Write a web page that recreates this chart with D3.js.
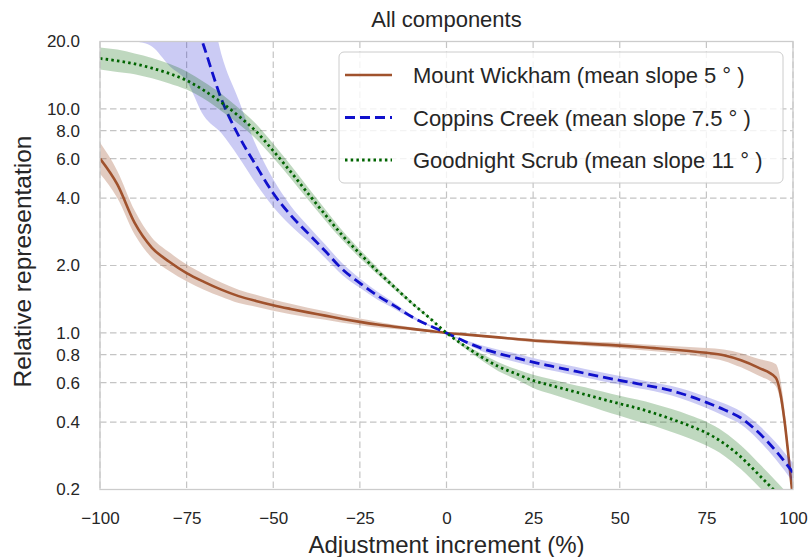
<!DOCTYPE html>
<html>
<head>
<meta charset="utf-8">
<script src="https://cdn.jsdelivr.net/npm/d3@7"></script>
<style>
  body { margin: 0; background: #fff; }
  svg { display: block; font-family: 'Liberation Sans', Arial, sans-serif; }
  .tick text { fill: #262626; font-size: 17px; }
</style>
</head>
<body>
<svg id="chart" width="809" height="557"></svg>
<script>
// adjustment increments (%) at which each site was evaluated
const increments = [-100, -95, -90, -85, -80, -75, -70, -65, -60, -55, -50, -45, -40, -35, -30, -25, -20, -15, -10, -5,
  0, 5, 10, 15, 20, 25, 30, 35, 40, 45, 50, 55, 60, 65, 70, 75, 80, 85, 90, 95, 100]

// Mount Wickham: mean relative representation and its band
const wickhamMean = [6.0, 4.6, 3.1, 2.4, 2.08, 1.85, 1.69, 1.56, 1.46, 1.39, 1.33, 1.28, 1.235, 1.195, 1.155, 1.12, 1.09, 1.065, 1.043, 1.021,
  1.0, 0.985, 0.97, 0.955, 0.94, 0.925, 0.915, 0.905, 0.896, 0.887, 0.878, 0.867, 0.855, 0.843, 0.83, 0.815, 0.795, 0.755, 0.70, 0.632, 0.18]
const wickhamHigh = [7.08, 5.29, 3.52, 2.66, 2.29, 2.02, 1.83, 1.68, 1.56, 1.48, 1.41, 1.35, 1.297, 1.249, 1.201, 1.159, 1.123, 1.088, 1.059, 1.029,
  1.0, 0.99, 0.98, 0.966, 0.954, 0.942, 0.933, 0.925, 0.917, 0.91, 0.903, 0.893, 0.883, 0.874, 0.865, 0.856, 0.843, 0.812, 0.767, 0.727, 0.19]
const wickhamLow = [5.13, 4.0, 2.75, 2.16, 1.89, 1.70, 1.56, 1.45, 1.36, 1.31, 1.255, 1.213, 1.176, 1.144, 1.111, 1.082, 1.058, 1.042, 1.028, 1.013,
  1.0, 0.98, 0.96, 0.944, 0.926, 0.909, 0.897, 0.886, 0.875, 0.865, 0.854, 0.842, 0.828, 0.813, 0.797, 0.776, 0.75, 0.702, 0.645, 0.58, 0.17]

// Coppins Creek
const coppinsMean = [180, 140, 105, 75, 50, 32, 19.0, 11.1, 7.6, 5.6, 4.2, 3.36, 2.79, 2.32, 1.92, 1.67, 1.47, 1.32, 1.18, 1.08,
  1.0, 0.92, 0.856, 0.81, 0.774, 0.74, 0.712, 0.686, 0.66, 0.636, 0.614, 0.594, 0.574, 0.552, 0.523, 0.49, 0.455, 0.417, 0.36, 0.298, 0.238]
const coppinsHigh = [400, 300, 220, 160, 100, 65, 40, 17.6, 11.0, 6.9, 4.85, 3.7, 3.01, 2.48, 2.04, 1.75, 1.53, 1.36, 1.2, 1.09,
  1.0, 0.934, 0.882, 0.842, 0.809, 0.773, 0.744, 0.717, 0.69, 0.665, 0.642, 0.621, 0.6, 0.58, 0.552, 0.519, 0.485, 0.446, 0.389, 0.325, 0.262]
const coppinsLow = [24, 22, 20.2, 19.0, 15.6, 13.3, 9.3, 7.8, 6.1, 4.65, 3.65, 3.02, 2.57, 2.16, 1.81, 1.59, 1.41, 1.28, 1.16, 1.07,
  1.0, 0.906, 0.831, 0.779, 0.741, 0.708, 0.681, 0.656, 0.632, 0.609, 0.588, 0.568, 0.549, 0.526, 0.496, 0.462, 0.427, 0.39, 0.333, 0.273, 0.216]

// Goodnight Scrub
const goodnightMean = [16.8, 16.4, 15.9, 15.2, 14.4, 13.4, 12.1, 10.7, 9.3, 7.95, 6.5, 5.25, 4.2, 3.37, 2.72, 2.26, 1.89, 1.60, 1.36, 1.17,
  1.0, 0.88, 0.783, 0.708, 0.658, 0.613, 0.584, 0.557, 0.531, 0.506, 0.483, 0.462, 0.438, 0.412, 0.386, 0.358, 0.322, 0.279, 0.234, 0.195, 0.16]
const goodnightHigh = [18.8, 18.4, 17.7, 16.9, 15.9, 14.7, 13.2, 11.7, 10.1, 8.59, 6.99, 5.62, 4.47, 3.57, 2.86, 2.36, 1.96, 1.64, 1.38, 1.18,
  1.0, 0.895, 0.81, 0.74, 0.69, 0.65, 0.622, 0.595, 0.572, 0.547, 0.524, 0.504, 0.482, 0.457, 0.43, 0.401, 0.362, 0.314, 0.263, 0.219, 0.18]
const goodnightLow = [15.0, 14.6, 14.3, 13.7, 13.0, 12.2, 11.1, 9.8, 8.57, 7.36, 6.05, 4.91, 3.94, 3.18, 2.59, 2.16, 1.83, 1.56, 1.34, 1.16,
  1.0, 0.86, 0.757, 0.675, 0.622, 0.568, 0.535, 0.506, 0.478, 0.451, 0.427, 0.403, 0.384, 0.361, 0.339, 0.314, 0.284, 0.246, 0.207, 0.173, 0.142]

const seriesNames = ['Mount Wickham (mean slope 5 \u00b0 )', 'Coppins Creek (mean slope 7.5 \u00b0 )', 'Goodnight Scrub (mean slope 11 \u00b0 )']

const xTicks = [-100, -75, -50, -25, 0, 25, 50, 75, 100]
const yTicks = [0.2, 0.4, 0.6, 0.8, 1.0, 2.0, 4.0, 6.0, 8.0, 10.0, 20.0]

const series = [
  { name: seriesNames[0], mean: wickhamMean, low: wickhamLow, high: wickhamHigh, color: '#a0522d', fillOpacity: 0.3, dash: null },
  { name: seriesNames[1], mean: coppinsMean, low: coppinsLow, high: coppinsHigh, color: '#1010cc', fillOpacity: 0.22, dash: '10,5' },
  { name: seriesNames[2], mean: goodnightMean, low: goodnightLow, high: goodnightHigh, color: '#006400', fillOpacity: 0.25, dash: '2.5,3.2' }
]

const svg = d3.select('#chart')
const margin = { top: 41.5, right: 16, bottom: 67.5, left: 100 }
const width = +svg.attr('width') - margin.left - margin.right
const height = +svg.attr('height') - margin.top - margin.bottom

const g = svg.append('g').attr('transform', `translate(${margin.left}, ${margin.top})`)

const x = d3.scaleLinear().domain([-100, 100]).range([0, width])
const y = d3.scaleLog().domain([0.2, 20]).range([height, 0])

// grid
const grid = g.append('g')
  .attr('stroke', '#c4c4c4')
  .attr('stroke-width', 1.2)
  .attr('stroke-dasharray', '6.5,3.5')
grid.selectAll('line.v')
  .data(xTicks)
  .enter()
  .append('line')
  .attr('x1', d => x(d)).attr('x2', d => x(d))
  .attr('y1', 0).attr('y2', height)
grid.selectAll('line.h')
  .data(yTicks)
  .enter()
  .append('line')
  .attr('y1', d => y(d)).attr('y2', d => y(d))
  .attr('x1', 0).attr('x2', width)

// curves, clipped to the axes box
svg.append('defs').append('clipPath').attr('id', 'plot-clip')
  .append('rect').attr('width', width).attr('height', height)
const plot = g.append('g').attr('clip-path', 'url(#plot-clip)')

const area = d3.area()
  .curve(d3.curveMonotoneX)
  .x((d, i) => x(increments[i]))
const line = d3.line()
  .curve(d3.curveMonotoneX)
  .x((d, i) => x(increments[i]))
  .y(d => y(d))

series.forEach(s => {
  plot.append('path')
    .datum(s.mean)
    .attr('fill', s.color)
    .attr('fill-opacity', s.fillOpacity)
    .attr('d', area.y0((d, i) => y(s.low[i])).y1((d, i) => y(s.high[i])))
  plot.append('path')
    .datum(s.mean)
    .attr('fill', 'none')
    .attr('stroke', s.color)
    .attr('stroke-width', s.dash ? 2.8 : 2.6)
    .attr('stroke-dasharray', s.dash)
    .attr('d', line)
})

// spines
g.append('rect')
  .attr('width', width)
  .attr('height', height)
  .attr('fill', 'none')
  .attr('stroke', '#cccccc')
  .attr('stroke-width', 1.3)

// axes
const xAxis = d3.axisBottom(x)
  .tickValues(xTicks)
  .tickFormat(d3.format('d'))
  .tickSize(0)
  .tickPadding(22)
const yAxis = d3.axisLeft(y)
  .tickValues(yTicks)
  .tickFormat(d3.format('.1f'))
  .tickSize(0)
  .tickPadding(20)
g.append('g')
  .attr('transform', `translate(0, ${height})`)
  .call(xAxis)
  .call(a => a.select('.domain').remove())
g.append('g')
  .call(yAxis)
  .call(a => a.select('.domain').remove())
g.selectAll('.tick text').attr('font-family', null).attr('font-size', null)

// labels
svg.append('text')
  .attr('x', margin.left + width / 2)
  .attr('y', 27)
  .attr('text-anchor', 'middle')
  .attr('fill', '#262626')
  .style('font-size', '22px')
  .text('All components')
svg.append('text')
  .attr('x', margin.left + width / 2)
  .attr('y', 553)
  .attr('text-anchor', 'middle')
  .attr('fill', '#262626')
  .style('font-size', '24px')
  .text('Adjustment increment (%)')
svg.append('text')
  .attr('transform', `translate(30.5, ${margin.top + height / 2 - 4}) rotate(-90)`)
  .attr('text-anchor', 'middle')
  .attr('fill', '#262626')
  .style('font-size', '24.5px')
  .text('Relative representation')

// legend
const legend = svg.append('g').attr('transform', 'translate(339, 52)')
legend.append('rect')
  .attr('width', 444)
  .attr('height', 131)
  .attr('rx', 5)
  .attr('fill', '#fff')
  .attr('fill-opacity', 0.8)
  .attr('stroke', '#cccccc')
  .attr('stroke-width', 1)
series.forEach((s, i) => {
  const row = legend.append('g').attr('transform', `translate(0, ${23 + 42.5 * i})`)
  row.append('line')
    .attr('x1', 6).attr('x2', 53)
    .attr('stroke', s.color)
    .attr('stroke-width', s.dash ? 2.8 : 2.6)
    .attr('stroke-dasharray', s.dash)
  row.append('text')
    .attr('x', 74)
    .attr('y', 8)
    .attr('fill', '#262626')
    .style('font-size', '22px')
    .text(s.name)
})
</script>
</body>
</html>
